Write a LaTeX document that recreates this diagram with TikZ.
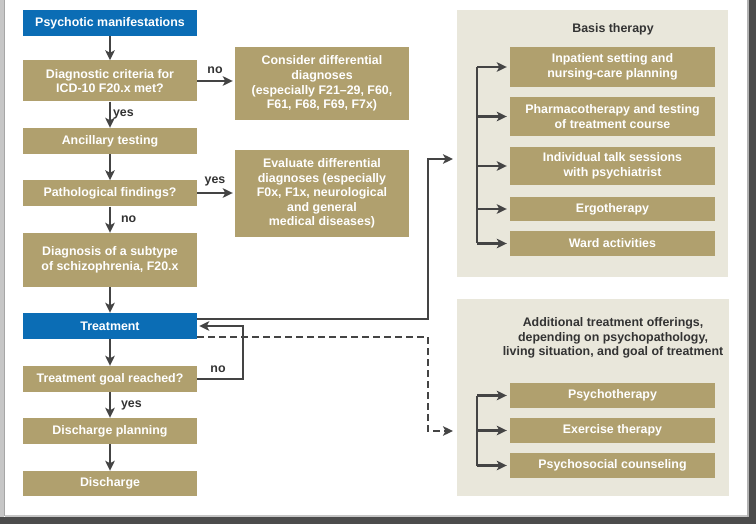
\documentclass[tikz,border=0pt]{standalone}
\usepackage{fontspec}
\setmainfont{Liberation Sans}
\usetikzlibrary{arrows.meta}
\definecolor{gold}{HTML}{B0A06E}
\definecolor{tblue}{HTML}{0B6DB5}
\definecolor{panel}{HTML}{E9E7DB}
\definecolor{arr}{HTML}{444444}
\definecolor{dtext}{HTML}{333333}
\tikzset{
  box/.style={rectangle, fill=gold, text=white, align=center, inner sep=0pt,
    font=\bfseries\fontsize{12.4}{14.6}\selectfont},
  lbox/.style={box, minimum width=174pt},
  rbox/.style={box, minimum width=205pt},
  bluebox/.style={lbox, fill=tblue},
  conn/.style={draw=arr, line width=2.2pt, -{Stealth[length=10pt,width=9.5pt,inset=2.5pt]}},
  plain/.style={draw=arr, line width=2.2pt},
  lab/.style={text=dtext, font=\bfseries\fontsize{12.4}{14.6}\selectfont, inner sep=0pt},
  ttl/.style={text=dtext, align=center, font=\bfseries\fontsize{12.4}{14.6}\selectfont, inner sep=0pt}
}
\begin{document}
\begin{tikzpicture}[x=1pt,y=-1pt]
% frame
\fill[white] (0,0) rectangle (756,524);
\useasboundingbox (0,0) rectangle (756,524);
\fill[gray!45] (0,0) rectangle (3.5,518);
\fill[gray!70] (3.5,0) rectangle (5,516);
\fill[gray!45] (5,514.5) rectangle (748,517);
\fill[gray!60] (746.5,0) rectangle (748.5,517);
\fill[black!70] (748.5,0) rectangle (756,524);
\fill[black!70] (0,517) rectangle (756,524);

% panels
\fill[panel] (457,10) rectangle (728,277);
\fill[panel] (457,299) rectangle (729,496);
\node[ttl] (bt) at (613,29) {Basis therapy};
\node[ttl] (at) at (613,338) {Additional treatment offerings,\\depending on psychopathology,\\living situation, and goal of treatment};

% left column
\node[bluebox, minimum height=26pt] (psy) at (110,23) {Psychotic manifestations};
\node[lbox, minimum height=41pt] (diag) at (110,81) {Diagnostic criteria for\\ICD-10 F20.x met?};
\node[lbox, minimum height=26pt] (anc) at (110,141) {Ancillary testing};
\node[lbox, minimum height=26pt] (path) at (110,193.5) {Pathological findings?};
\node[lbox, minimum height=54pt] (sub) at (110,260) {Diagnosis of a subtype\\of schizophrenia, F20.x};
\node[bluebox, minimum height=26pt] (treat) at (110,326) {Treatment};
\node[lbox, minimum height=26pt] (goal) at (110,379) {Treatment goal reached?};
\node[lbox, minimum height=26pt] (dplan) at (110,431) {Discharge planning};
\node[lbox, minimum height=25pt] (dis) at (110,483.5) {Discharge};

% differential boxes
\node[lbox, minimum height=73pt] (cons) at (322,83.5) {Consider differential\\diagnoses\\(especially F21--29, F60,\\F61, F68, F69, F7x)};
\node[lbox, minimum height=87pt] (eval) at (322,193.5) {Evaluate differential\\diagnoses (especially\\F0x, F1x, neurological\\and general\\medical diseases)};

% basis items
\node[rbox, minimum height=40pt] (inp) at (612.5,67) {Inpatient setting and\\nursing-care planning};
\node[rbox, minimum height=39pt] (pharm) at (612.5,116.5) {Pharmacotherapy and testing\\of treatment course};
\node[rbox, minimum height=38pt] (indiv) at (612.5,166) {Individual talk sessions\\with psychiatrist};
\node[rbox, minimum height=24pt] (ergo) at (612.5,209) {Ergotherapy};
\node[rbox, minimum height=25pt] (ward) at (612.5,243.5) {Ward activities};

% additional items
\node[rbox, minimum height=25pt] (pth) at (612.5,395.5) {Psychotherapy};
\node[rbox, minimum height=25pt] (exer) at (612.5,430.5) {Exercise therapy};
\node[rbox, minimum height=25pt] (psoc) at (612.5,465.5) {Psychosocial counseling};

% left column connectors
\draw[conn] (psy) -- (diag);
\draw[conn] (diag) -- (anc) node[lab, midway, right, xshift=2pt] {yes};
\draw[conn] (anc) -- (path);
\draw[conn] (path) -- (sub) node[lab, midway, right, xshift=10pt, yshift=1pt] {no};
\draw[conn] (sub) -- (treat);
\draw[conn] (treat) -- (goal);
\draw[conn] (goal) -- (dplan) node[lab, midway, right, xshift=10pt] {yes};
\draw[conn] (dplan) -- (dis);

\draw[conn] (diag.east) -- ([xshift=-2pt]cons.west |- diag.east) node[lab, midway, above, yshift=6pt] {no};
\draw[conn] ([yshift=0.5pt]path.east) -- ([xshift=-2pt,yshift=0.5pt]eval.west |- path.east) node[lab, midway, above, yshift=6pt] {yes};

% loop back
\coordinate (lr) at (243,379);
\draw[conn] (goal.east) -- (lr) -- (lr |- treat.east) -- ([xshift=2pt]treat.east);
\node[lab] (nolab) at (218,369) {no};

% to basis therapy
\coordinate (bend1) at (428,319);
\coordinate (bt1) at (453,159);
\draw[conn] (treat.east |- bend1) -- (bend1) -- (bend1 |- bt1) -- (bt1);

% to additional (dashed)
\coordinate (bend2) at (428,337);
\coordinate (ad1) at (453,431);
\draw[conn, dash pattern=on 7pt off 4pt] (treat.east |- bend2) -- (bend2) -- (bend2 |- ad1) -- (ad1);

% brackets
\coordinate (b1) at (477,0);
\draw[plain] (b1 |- inp) -- (b1 |- ward);
\foreach \n in {inp,pharm,indiv,ergo,ward}{
  \draw[conn] (b1 |- \n) -- ([xshift=-3pt]\n.west);
}
\draw[plain] (b1 |- pth) -- (b1 |- psoc);
\foreach \n in {pth,exer,psoc}{
  \draw[conn] (b1 |- \n) -- ([xshift=-3pt]\n.west);
}
\end{tikzpicture}
\end{document}
